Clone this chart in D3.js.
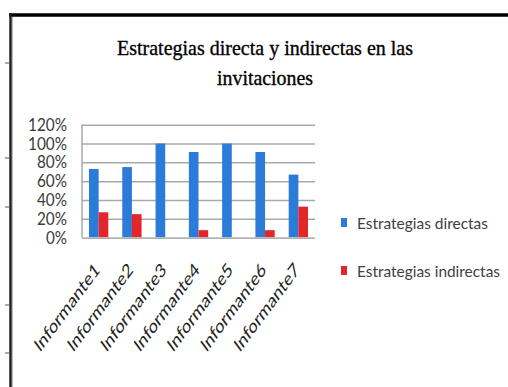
<!DOCTYPE html>
<html>
<head>
<meta charset="utf-8">
<script src="https://cdn.jsdelivr.net/npm/d3@7"></script>
<style>
  html, body { margin: 0; padding: 0; background: #fff; }
  svg { display: block; }
</style>
</head>
<body>
<svg id="chart" width="508" height="387"></svg>
<script>
// Data
const categories = ["Informante1", "Informante2", "Informante3", "Informante4", "Informante5", "Informante6", "Informante7"];
const directas = [73, 75, 100, 91, 100, 91, 67];
const indirectas = [27, 25, 0, 8, 0, 8, 33];
const seriesNames = ["Estrategias directas", "Estrategias indirectas"];
const yTicks = [0, 20, 40, 60, 80, 100, 120];
const titleLines = ["Estrategias directa y indirectas en las", "invitaciones"];

const colors = ["#2b7bd8", "#e3262b"];
const svg = d3.select("#chart");

// Page frame: heavy top rule and left rule
svg.append("line").attr("x1", 9).attr("x2", 508).attr("y1", 15).attr("y2", 15)
  .attr("stroke", "#000").attr("stroke-width", 3.5);
svg.append("line").attr("x1", 10.5).attr("x2", 10.5).attr("y1", 13).attr("y2", 387)
  .attr("stroke", "#222").attr("stroke-width", 2.5);
svg.append("line").attr("x1", 12.5).attr("x2", 12.5).attr("y1", 17).attr("y2", 387)
  .attr("stroke", "#bbb").attr("stroke-width", 1);
[63, 158, 207, 305, 353].forEach(y => {
  svg.append("line").attr("x1", 5).attr("x2", 10).attr("y1", y).attr("y2", y)
    .attr("stroke", "#555").attr("stroke-width", 1);
});

// Title
const title = svg.append("g");
const titleWidths = [296, 96];
titleLines.forEach((t, i) => {
  title.append("text")
    .attr("x", 265).attr("y", 55 + i * 30)
    .attr("text-anchor", "middle")
    .attr("font-family", "'Liberation Serif', 'DejaVu Serif', serif")
    .attr("font-size", 22)
    .attr("fill", "#000")
    .attr("stroke", "#000").attr("stroke-width", 0.35)
    .attr("textLength", titleWidths[i])
    .attr("lengthAdjust", "spacingAndGlyphs")
    .text(t);
});

// Plot area
const plot = { left: 82, right: 315, top: 124.7, bottom: 237.7 };

const x0 = d3.scaleBand().domain(categories).range([plot.left, plot.right])
  .paddingInner(0.42).paddingOuter(0.21);
const x1 = d3.scaleBand().domain(seriesNames).range([0, x0.bandwidth()]);
const xc = d3.scaleBand().domain(categories).range([plot.left, plot.right]);
const y = d3.scaleLinear().domain([0, 120]).range([plot.bottom, plot.top]);

// Gridlines
svg.append("g")
  .attr("transform", `translate(${plot.left},0)`)
  .call(d3.axisLeft(y).tickValues(yTicks).tickSize(-(plot.right - plot.left)).tickFormat(""))
  .call(g => g.select(".domain").remove())
  .call(g => g.selectAll(".tick line").attr("stroke", "#a9a9a9").attr("stroke-width", 1.5));

// Vertical axis line
svg.append("line").attr("x1", plot.left).attr("x2", plot.left)
  .attr("y1", plot.top).attr("y2", plot.bottom)
  .attr("stroke", "#a9a9a9").attr("stroke-width", 1.5);

// Y tick labels
const yLabelW = { 0: 21, 20: 30, 40: 30, 60: 30, 80: 30, 100: 39, 120: 39 };
svg.append("g").selectAll("text").data(yTicks).join("text")
  .attr("x", 67).attr("y", d => y(d) + 6)
  .attr("text-anchor", "end")
  .attr("font-family", "Lato, 'Liberation Sans', sans-serif")
  .attr("font-size", 16.5)
  .attr("fill", "#3a3a3a")
  .attr("textLength", d => yLabelW[d])
  .attr("lengthAdjust", "spacingAndGlyphs")
  .text(d => d + "%");

// Bars
const rows = categories.map((c, i) => ({ c, vals: [directas[i], indirectas[i]] }));
const groups = svg.append("g").selectAll("g").data(rows).join("g")
  .attr("transform", d => `translate(${x0(d.c)},0)`);
groups.selectAll("rect")
  .data(d => d.vals.map((v, k) => ({ v, k })))
  .join("rect")
  .attr("x", d => x1(seriesNames[d.k]))
  .attr("width", x1.bandwidth())
  .attr("y", d => y(d.v))
  .attr("height", d => y(0) - y(d.v))
  .attr("fill", d => colors[d.k]);

// Bottom axis line
svg.append("line").attr("x1", plot.left).attr("x2", plot.right)
  .attr("y1", plot.bottom).attr("y2", plot.bottom)
  .attr("stroke", "#c8c8c8").attr("stroke-width", 1);

// Category labels, slanted
svg.append("g").selectAll("text").data(categories).join("text")
  .attr("transform", d => `translate(${xc(d) + xc.bandwidth() / 2 + 2},271) scale(0.74,1) rotate(-45)`)
  .attr("text-anchor", "end")
  .attr("font-family", "Lato, 'Liberation Sans', sans-serif")
  .attr("font-size", 19)
  .attr("fill", "#222")
  .attr("textLength", 116)
  .attr("lengthAdjust", "spacingAndGlyphs")
  .text(d => d);

// Legend
const legend = svg.append("g");
const legendY = [223, 271];
const legendW = [131, 143];
seriesNames.forEach((s, i) => {
  legend.append("rect")
    .attr("x", 341).attr("y", legendY[i] - 5)
    .attr("width", 6).attr("height", 9)
    .attr("fill", colors[i]);
  legend.append("text")
    .attr("x", 357).attr("y", legendY[i] + 6)
    .attr("font-family", "Lato, 'Liberation Sans', sans-serif")
    .attr("font-size", 16)
    .attr("fill", "#404040")
    .attr("textLength", legendW[i])
    .attr("lengthAdjust", "spacingAndGlyphs")
    .text(s);
});
</script>
</body>
</html>
